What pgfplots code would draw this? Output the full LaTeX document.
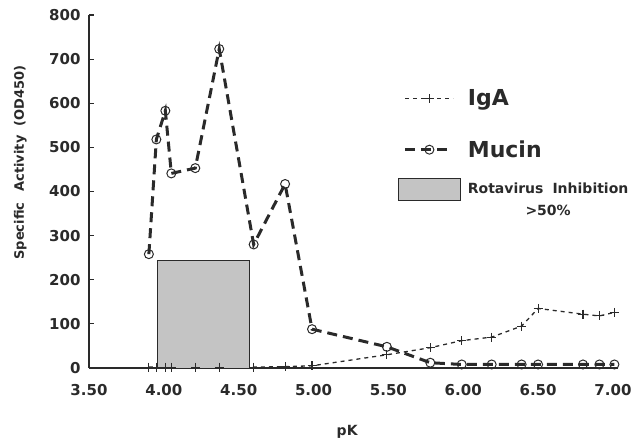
\documentclass[border=0pt]{standalone}
\usepackage{fontspec}
\setmainfont{DejaVu Sans}
\usepackage{pgfplots}
\pgfplotsset{compat=1.18}
\definecolor{ink}{HTML}{2A2A2A}
\definecolor{shade}{HTML}{C4C4C4}
\pgfplotsset{
  legline/.style={legend image code/.code={\pgfpathmoveto{\pgfpoint{0pt}{-#1}}\pgfpathlineto{\pgfpoint{0pt}{10pt}}\pgfusepath{}\draw[##1, mark repeat=2, mark phase=2] plot coordinates {(-24pt,0pt)(0pt,0pt)(24pt,0pt)};}},
  legbox/.style={legend image code/.code={\draw[##1] (-31pt,-14pt) rectangle (31pt,8pt);}},
}
\begin{document}
\begin{tikzpicture}
\begin{axis}[
  at={(0,0)}, anchor=south west,
  scale only axis, width=529pt, height=353pt,
  xmin=3.5, xmax=7.034, ymin=0, ymax=800,
  axis lines*=left,
  axis line style={ink, line width=1.6pt},
  xtick={3.5,4,4.5,5,5.5,6,6.5,7},
  xticklabels={3.50,4.00,4.50,5.00,5.50,6.00,6.50,7.00},
  ytick={0,100,...,800},
  yticklabels={0,100,200,300,400,500,600,700,800},
  xtick style={draw=none},
  ytick style={ink, line width=1.2pt},
  tick align=inside, major tick length=5pt,
  tick label style={font=\fontsize{15}{18}\selectfont\bfseries, text=ink},
  xticklabel style={yshift=-13pt},
  yticklabel style={xshift=-5pt},
  every axis x label/.style={at={(axis description cs:0.488,-0.181)}, anchor=center},
  every axis y label/.style={at={(axis description cs:-0.130,0.582)}, anchor=center, rotate=90},
  xlabel={\fontsize{14}{16}\selectfont\bfseries pK},
  ylabel={\fontsize{13}{15}\selectfont\bfseries Specific\hspace{11pt}Activity\hspace{9pt}(OD450)},
  label style={text=ink},
  clip=false,
  legend style={draw=none, fill=none, at={(axis description cs:0.578,0.80)}, anchor=north west,
    row sep=14pt, column sep=5pt, text=ink},
  legend cell align=left,
]
% IgA
\addplot[ink, line width=1.3pt, dash pattern=on 4pt off 4pt,
  mark=+, mark size=4.5pt, mark options={solid, line width=1.1pt}, legline=26pt]
coordinates {
(3.90,2)(3.95,2)(4.01,2)(4.05,2)(4.21,2)(4.37,2)(4.60,2)(4.81,3)(4.99,5)
(5.49,30)(5.78,46)(5.99,62)(6.19,70)(6.39,95)(6.50,135)(6.80,122)(6.91,118)(7.01,126)
};
\addlegendentry{\fontsize{22}{26}\selectfont\bfseries IgA}
% Mucin
\addplot[ink, line width=3pt, dash pattern=on 10pt off 6pt,
  mark=o, mark size=4.5pt, mark options={solid, line width=1pt}, legline=12pt]
coordinates {
(3.90,258)(3.95,518)(4.01,583)(4.05,441)(4.21,453)(4.37,723)(4.60,280)(4.81,417)(4.99,88)
(5.49,48)(5.78,12)(5.99,8)(6.19,8)(6.39,8)(6.50,8)(6.80,8)(6.91,8)(7.01,8)
};
\addlegendentry{\fontsize{22}{26}\selectfont\bfseries Mucin}
% Rotavirus inhibition region
\addplot[draw=ink, line width=0.9pt, fill=shade, legbox]
coordinates {(3.96,0)(3.96,243)(4.57,243)(4.57,0)} -- cycle;
\addlegendentry{\fontsize{14}{22}\selectfont\bfseries\begin{tabular}[t]{@{}c@{}}Rotavirus\hspace{9pt}Inhibition\\[0pt]>50\%\end{tabular}}
\end{axis}
\pgfresetboundingbox
\path[use as bounding box] (-89pt,-71pt) rectangle (555pt,368pt);
\end{tikzpicture}
\end{document}
